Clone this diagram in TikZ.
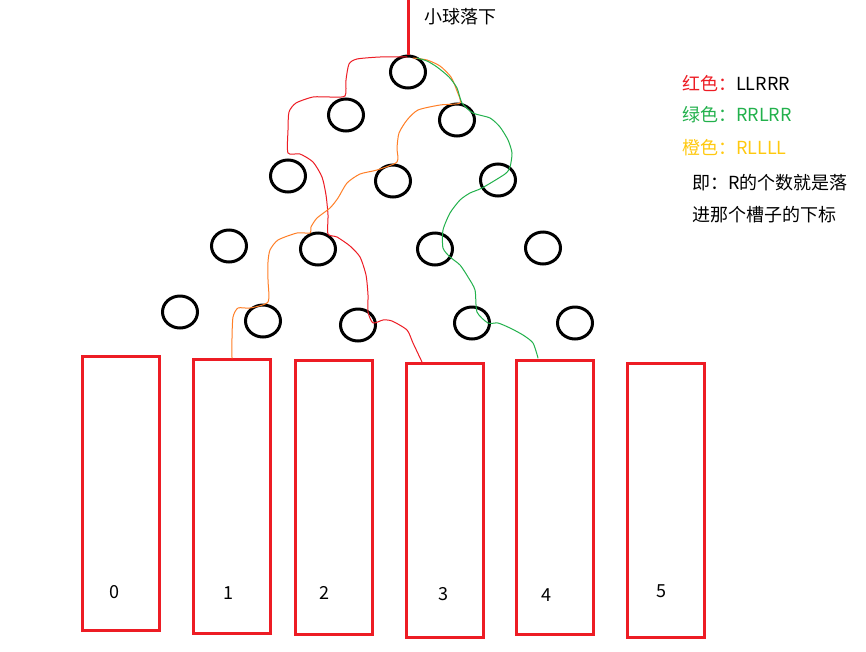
\documentclass[tikz,border=0pt]{standalone}
\usepackage{fontspec}
\setmainfont{Noto Sans CJK SC}
\usetikzlibrary{shapes.geometric}
\definecolor{pred}{HTML}{ED1C24}
\definecolor{pgreen}{HTML}{22B14C}
\definecolor{porange}{HTML}{FF7F27}
\definecolor{pgold}{HTML}{FFC90E}
\begin{document}
\begin{tikzpicture}[x=1pt,y=-1pt,
  peg/.style={ellipse,draw=black,line width=3pt,minimum width=35pt,minimum height=32pt,inner sep=0pt},
  slot/.style={draw=pred,line width=3pt,minimum width=77pt,minimum height=274pt,inner sep=0pt},
  lab/.style={font=\fontsize{18}{20}\selectfont,inner sep=0pt},
  trail/.style={line width=1pt,line join=round,line cap=round}]
\useasboundingbox[fill=white] (0,0) rectangle (866,651);
% pegs
\node[peg] (p1) at (408,72) {};
\node[peg] (p21) at (346,115) {};
\node[peg] (p22) at (457,120) {};
\node[peg] (p31) at (288,176) {};
\node[peg] (p32) at (393,181) {};
\node[peg] (p33) at (498,180) {};
\node[peg] (p41) at (229,246) {};
\node[peg] (p42) at (318,249) {};
\node[peg] (p43) at (435,249) {};
\node[peg] (p44) at (543,248) {};
\node[peg] (p51) at (180,312) {};
\node[peg] (p52) at (263,321) {};
\node[peg] (p53) at (358,325) {};
\node[peg] (p54) at (472,323) {};
\node[peg] (p55) at (575,323) {};
% slots
\node[slot] (s0) at (121,493.5) {};
\node[slot] (s1) at (232,496.5) {};
\node[slot] (s2) at (334,497.5) {};
\node[slot] (s3) at (445,500.5) {};
\node[slot] (s4) at (555,497.5) {};
\node[slot] (s5) at (666,500.5) {};
\node[lab] (n0) at (114,592) {0};
\node[lab] (n1) at (228,593) {1};
\node[lab] (n2) at (324,593) {2};
\node[lab] (n3) at (443,594) {3};
\node[lab] (n4) at (546,595) {4};
\node[lab] (n5) at (661,591) {5};
% drop line and title
\coordinate (top) at (408,0);
\draw[pred,line width=3pt] (top) -- (p1.north);
\node[lab,anchor=west] (title) at (424,17) {小球落下};
% legend
\node[lab,anchor=west] (lr) at (682,83) {\textcolor{pred}{红色：}LLRRR};
\node[lab,anchor=west] (lg) at (682,115) {\textcolor{pgreen}{绿色：RRLRR}};
\node[lab,anchor=west] (lo) at (682,148) {\textcolor{pgold}{橙色：RLLLL}};
\node[lab,anchor=west] (t1) at (692,183) {即：R的个数就是落};
\node[lab,anchor=west] (t2) at (692,215) {进那个槽子的下标};
% trails
\draw[trail,pred] plot[smooth,tension=0.4] coordinates {(407,57) (380,57) (357,59) (349,64) (346,80) (345,96) (330,97) (313,97) (296,103) (289,112) (288,130) (288,153) (300,154) (313,162) (322,177) (326,195) (328,215) (328,234) (337,237) (350,246) (360,257) (366,275) (368,295) (368,312) (373,323) (383,320) (392,321) (407,330) (413,343) (422,362)};
\draw[trail,porange] plot[smooth,tension=0.4] coordinates {(413,58) (427,60) (440,66) (451,77) (457,91) (460,103) (440,105) (418,110) (407,120) (399,133) (397,148) (397,162) (377,170) (360,174) (347,183) (338,198) (330,208) (317,218) (311,227) (310,233) (297,233) (278,240) (270,250) (268,262) (268,280) (268,302) (250,308) (238,308) (233,317) (232,338) (232,358)};
\draw[trail,pgreen] plot[smooth,tension=0.4] coordinates {(417,58) (427,61) (437,67) (449,77) (457,88) (462,103) (473,113) (490,118) (500,127) (508,140) (512,153) (510,167) (505,174) (482,188) (470,193) (460,200) (450,213) (443,230) (443,248) (450,257) (460,265) (468,277) (475,290) (477,312) (488,323) (498,323) (510,328) (523,335) (533,343) (538,358)};
\end{tikzpicture}
\end{document}
